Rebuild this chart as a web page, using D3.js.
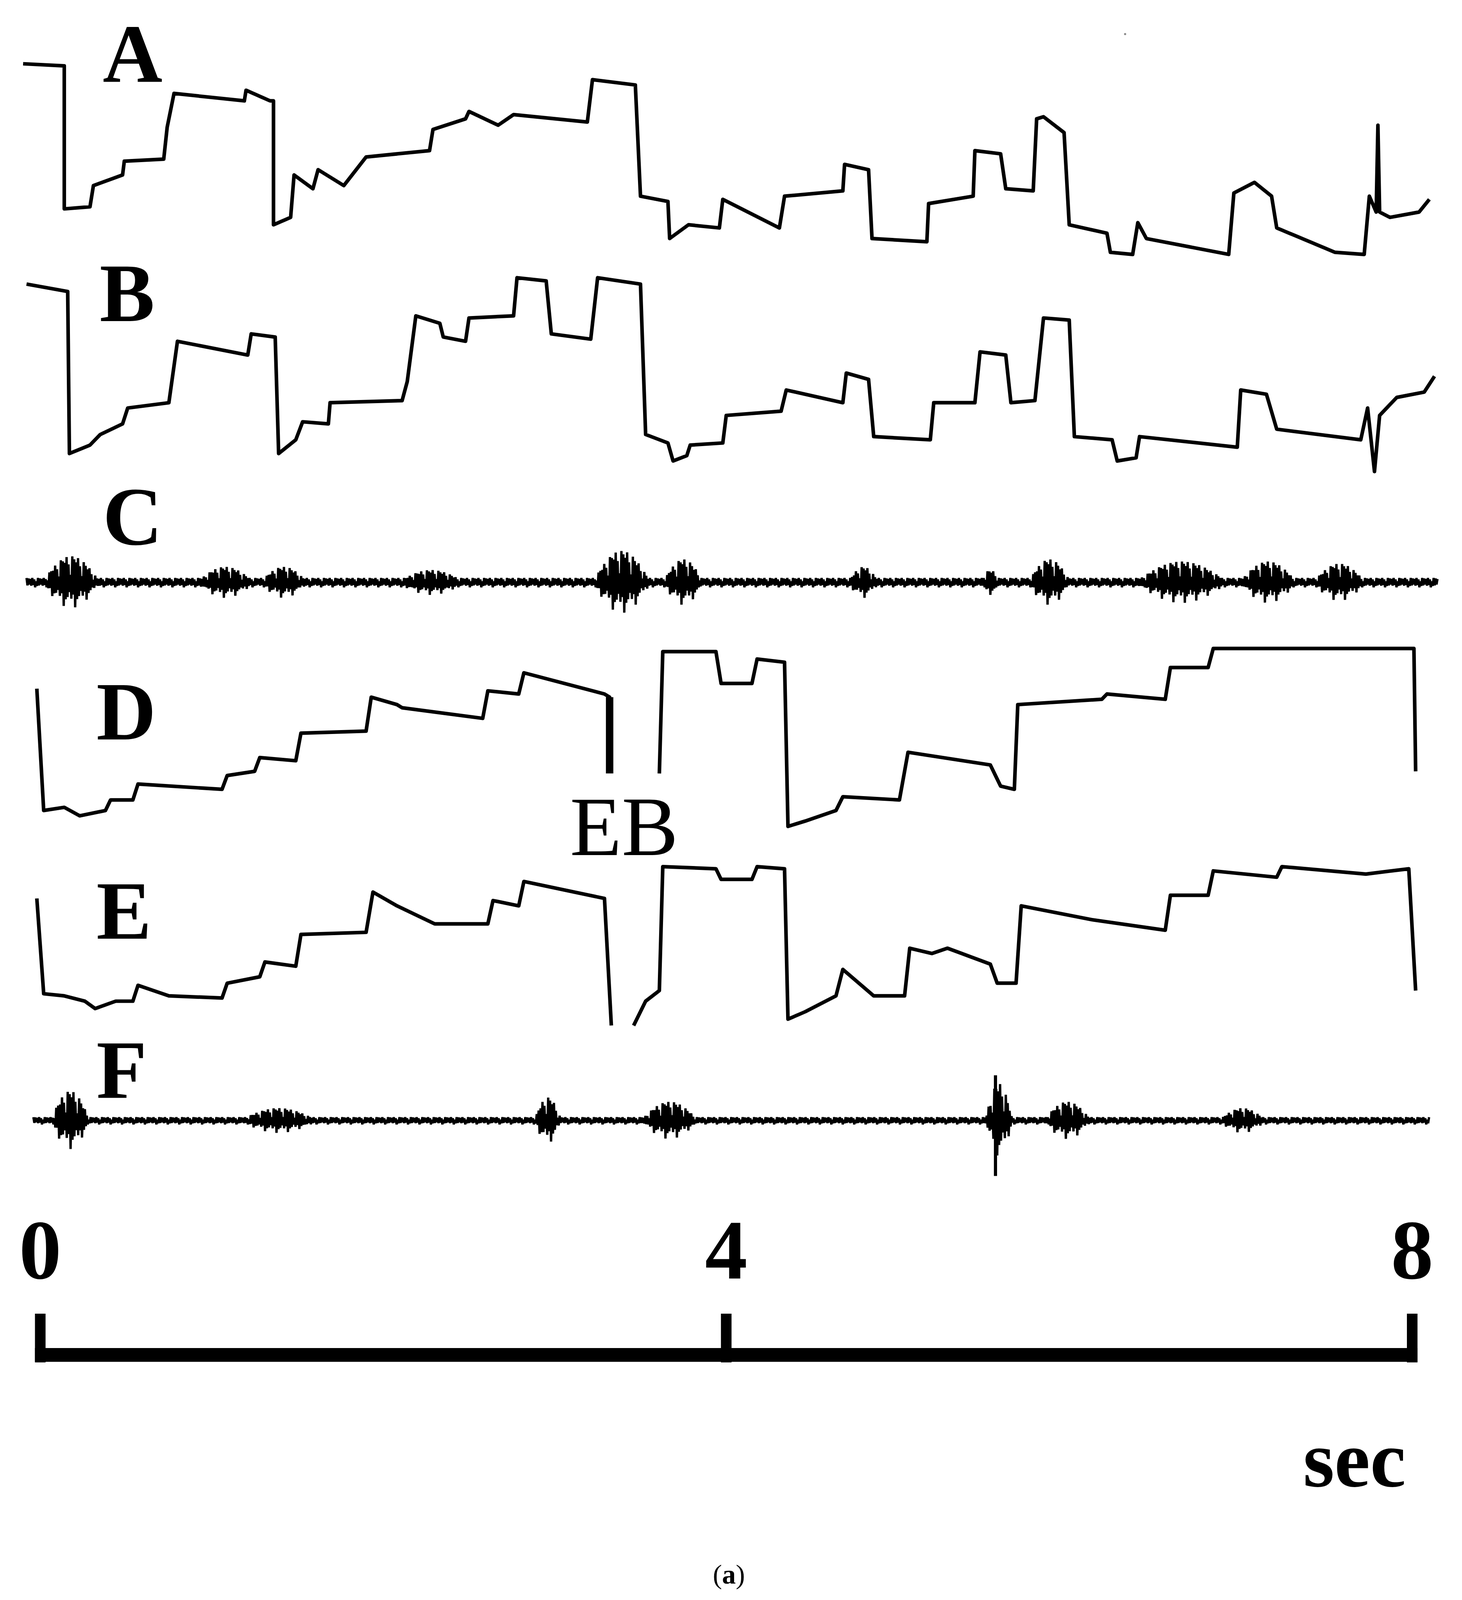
<!DOCTYPE html>
<html><head><meta charset="utf-8">
<script src="https://cdn.jsdelivr.net/npm/d3@7"></script>
<style>html,body{margin:0;background:#fff;overflow:hidden}svg{display:block}</style>
</head><body>
<script>
// time (sec), value (arbitrary units)
const traceA = [[-0.10,190],[0.14,188],[0.14,53],[0.29,55],[0.31,75],[0.48,85],[0.49,98],[0.72,100],[0.74,130],[0.78,162],[1.19,155],[1.20,165],[1.34,155],[1.36,155],[1.36,38],[1.46,45],[1.48,85],[1.59,72],[1.62,90],[1.77,75],[1.90,102],[2.27,108],[2.29,128],[2.48,138],[2.50,145],[2.67,132],[2.76,142],[3.19,135],[3.22,175],[3.47,170],[3.50,65],[3.66,60],[3.67,25],[3.78,38],[3.96,35],[3.98,62],[4.31,35],[4.34,65],[4.68,70],[4.69,95],[4.83,90],[4.85,25],[5.17,22],[5.18,58],[5.44,65],[5.45,108],[5.60,105],[5.63,72],[5.79,70],[5.81,138],[5.85,140],[5.97,125],[6.00,38],[6.22,30],[6.24,12],[6.37,10],[6.40,40],[6.45,25],[6.93,10],[6.96,68],[7.08,78],[7.18,65],[7.21,35],[7.55,12],[7.72,10],[7.75,65],[7.79,50],[7.80,132],[7.81,50],[7.87,45],[8.04,50],[8.10,62]];
const traceB = [[-0.08,182],[0.16,175],[0.17,22],[0.29,30],[0.35,40],[0.48,50],[0.51,65],[0.75,70],[0.80,128],[1.21,115],[1.23,135],[1.37,132],[1.39,22],[1.49,35],[1.53,52],[1.68,50],[1.69,70],[2.11,72],[2.14,90],[2.19,152],[2.33,145],[2.35,132],[2.48,128],[2.50,150],[2.76,152],[2.78,188],[2.95,185],[2.98,135],[3.21,130],[3.25,188],[3.50,182],[3.53,40],[3.66,32],[3.69,15],[3.77,20],[3.79,30],[3.98,32],[4.00,58],[4.32,62],[4.35,82],[4.68,70],[4.70,98],[4.83,92],[4.86,38],[5.19,35],[5.21,70],[5.45,70],[5.48,118],[5.63,115],[5.66,70],[5.80,72],[5.85,150],[6.00,148],[6.03,38],[6.25,35],[6.28,15],[6.39,18],[6.41,38],[6.98,28],[7.00,82],[7.15,78],[7.21,45],[7.70,35],[7.74,65],[7.78,5],[7.81,58],[7.91,75],[8.07,80],[8.13,95]];
const traceD1 = [[-0.02,140],[0.02,25],[0.14,28],[0.23,20],[0.38,25],[0.41,35],[0.54,35],[0.57,50],[1.06,45],[1.09,58],[1.25,62],[1.28,75],[1.49,72],[1.52,98],[1.90,100],[1.93,132],[2.08,125],[2.11,122],[2.58,112],[2.61,138],[2.79,135],[2.82,155],[3.29,135],[3.32,132],[3.32,60]];
const traceD2 = [[3.61,60],[3.63,175],[3.94,175],[3.97,145],[4.15,145],[4.18,168],[4.34,165],[4.36,10],[4.46,15],[4.64,25],[4.68,38],[5.01,35],[5.06,80],[5.54,68],[5.60,48],[5.68,45],[5.70,125],[6.19,130],[6.22,135],[6.56,130],[6.59,160],[6.81,160],[6.84,178],[8.01,178],[8.02,62]];
const traceE1 = [[-0.02,122],[0.02,32],[0.14,30],[0.26,25],[0.32,18],[0.44,25],[0.54,25],[0.57,40],[0.75,30],[1.06,28],[1.09,42],[1.28,48],[1.31,62],[1.49,58],[1.52,88],[1.90,90],[1.94,128],[2.08,115],[2.30,98],[2.61,98],[2.64,120],[2.79,115],[2.82,138],[3.29,122],[3.33,2]];
const traceE2 = [[3.46,2],[3.53,25],[3.61,35],[3.63,152],[3.94,150],[3.97,140],[4.15,140],[4.18,152],[4.34,150],[4.36,8],[4.46,15],[4.64,30],[4.68,55],[4.86,30],[5.04,30],[5.07,75],[5.20,70],[5.29,75],[5.54,60],[5.58,42],[5.69,42],[5.72,115],[6.13,102],[6.56,92],[6.59,125],[6.81,125],[6.84,148],[7.21,142],[7.24,152],[7.73,145],[7.98,150],[8.02,35]];
// EMG bursts: [start, end, half-amplitude]
const burstsC = [[0.01,0.35,25],[0.91,1.25,15],[1.28,1.56,15],[2.08,2.48,12],[3.22,3.56,30],[3.63,3.87,22],[4.71,4.89,15],[5.48,5.60,12],[5.76,6.01,22],[6.38,6.93,20],[6.99,7.33,20],[7.42,7.73,18]];
const burstsF = [[0.06,0.29,28],[1.16,1.62,12],[2.88,3.04,22],[3.50,3.84,18],[5.51,5.67,35],[5.85,6.13,18],[6.87,7.15,12]];
const rangeC = [-0.08,8.15], rangeF = [-0.04,8.10];
const wiggle = [1,0.55,0.9,0.35,0.8,0.6,1,0.45,0.7,0.95,0.3,0.65];
const tickVals = [0,4,8];
const labels = [["A",97,77],["B",94,303],["C",97,514],["D",91,698],["E",91,886],["F",91,1036]];

const W=1380,H=1571;
const svg=d3.select("body").append("svg").attr("width",3742).attr("height",4261).attr("viewBox",`0 0 ${W} ${H}`);
const x=d3.scaleLinear().domain([0,8]).range([38,1333]);
const yS=b=>d3.scaleLinear().domain([0,250]).range([b,b-250]);
function step(data,bottom){
  const y=yS(bottom);
  svg.append("path").attr("d",d3.line().x(d=>x(d[0])).y(d=>y(d[1]))(data))
   .attr("fill","none").attr("stroke","#000").attr("stroke-width",3.4).attr("stroke-linejoin","round");
}
step(traceA,250);step(traceB,450);step(traceD1,790);step(traceD2,790);step(traceE1,970);step(traceE2,970);
svg.append("line").attr("x1",x(3.32)).attr("x2",x(3.32)).attr("y1",790-132).attr("y2",790-60).attr("stroke","#000").attr("stroke-width",7);

function emg(bursts,rng,base,bg){
  const pts=[];const dt=1/161.9*0.9;let i=0;
  for(let t=rng[0];t<=rng[1];t+=dt,i++){
    let a=bg*wiggle[i%wiggle.length];
    bursts.forEach(b=>{ if(t>=b[0]&&t<=b[1]){const u=(t-b[0])/(b[1]-b[0]);a=Math.max(a,b[2]*Math.sin(Math.PI*u)*wiggle[(i*7)%wiggle.length]);} });
    pts.push([x(t),base+(i%2?a:-a)]);
  }
  svg.append("path").attr("d",d3.line()(pts)).attr("fill","none").attr("stroke","#000").attr("stroke-width",2.2);
}
emg(burstsC,rangeC,550,4.5);
emg(burstsF,rangeF,1058,3.5);
svg.append("line").attr("x1",x(5.57)).attr("x2",x(5.57)).attr("y1",1015).attr("y2",1110).attr("stroke","#000").attr("stroke-width",3);

labels.forEach(l=>svg.append("text").attr("x",l[1]).attr("y",l[2]).text(l[0])
  .attr("font-family","Liberation Serif").attr("font-weight","bold").attr("font-size",78));
svg.append("text").attr("x",538).attr("y",807).text("EB").attr("font-family","Liberation Serif").attr("font-size",80);

// scale bar
tickVals.forEach(v=>{
  svg.append("text").attr("x",x(v)).attr("y",1207).attr("text-anchor","middle").text(v)
    .attr("font-family","Liberation Serif").attr("font-weight","bold").attr("font-size",80);
  svg.append("line").attr("x1",x(v)).attr("x2",x(v)).attr("y1",1240).attr("y2",1286).attr("stroke","#000").attr("stroke-width",10);
});
svg.append("line").attr("x1",x(0)-5).attr("x2",x(8)+5).attr("y1",1279).attr("y2",1279).attr("stroke","#000").attr("stroke-width",13);
svg.append("text").attr("x",1327).attr("y",1403).attr("text-anchor","end").text("sec")
  .attr("font-family","Liberation Serif").attr("font-weight","bold").attr("font-size",76);
const cap=svg.append("text").attr("x",688).attr("y",1495).attr("text-anchor","middle").attr("font-family","Liberation Serif").attr("font-size",26);
cap.append("tspan").text("(");cap.append("tspan").attr("font-weight","bold").text("a");cap.append("tspan").text(")");
svg.append("circle").attr("cx",1062).attr("cy",32).attr("r",1).attr("fill","#888");
</script>
</body></html>
